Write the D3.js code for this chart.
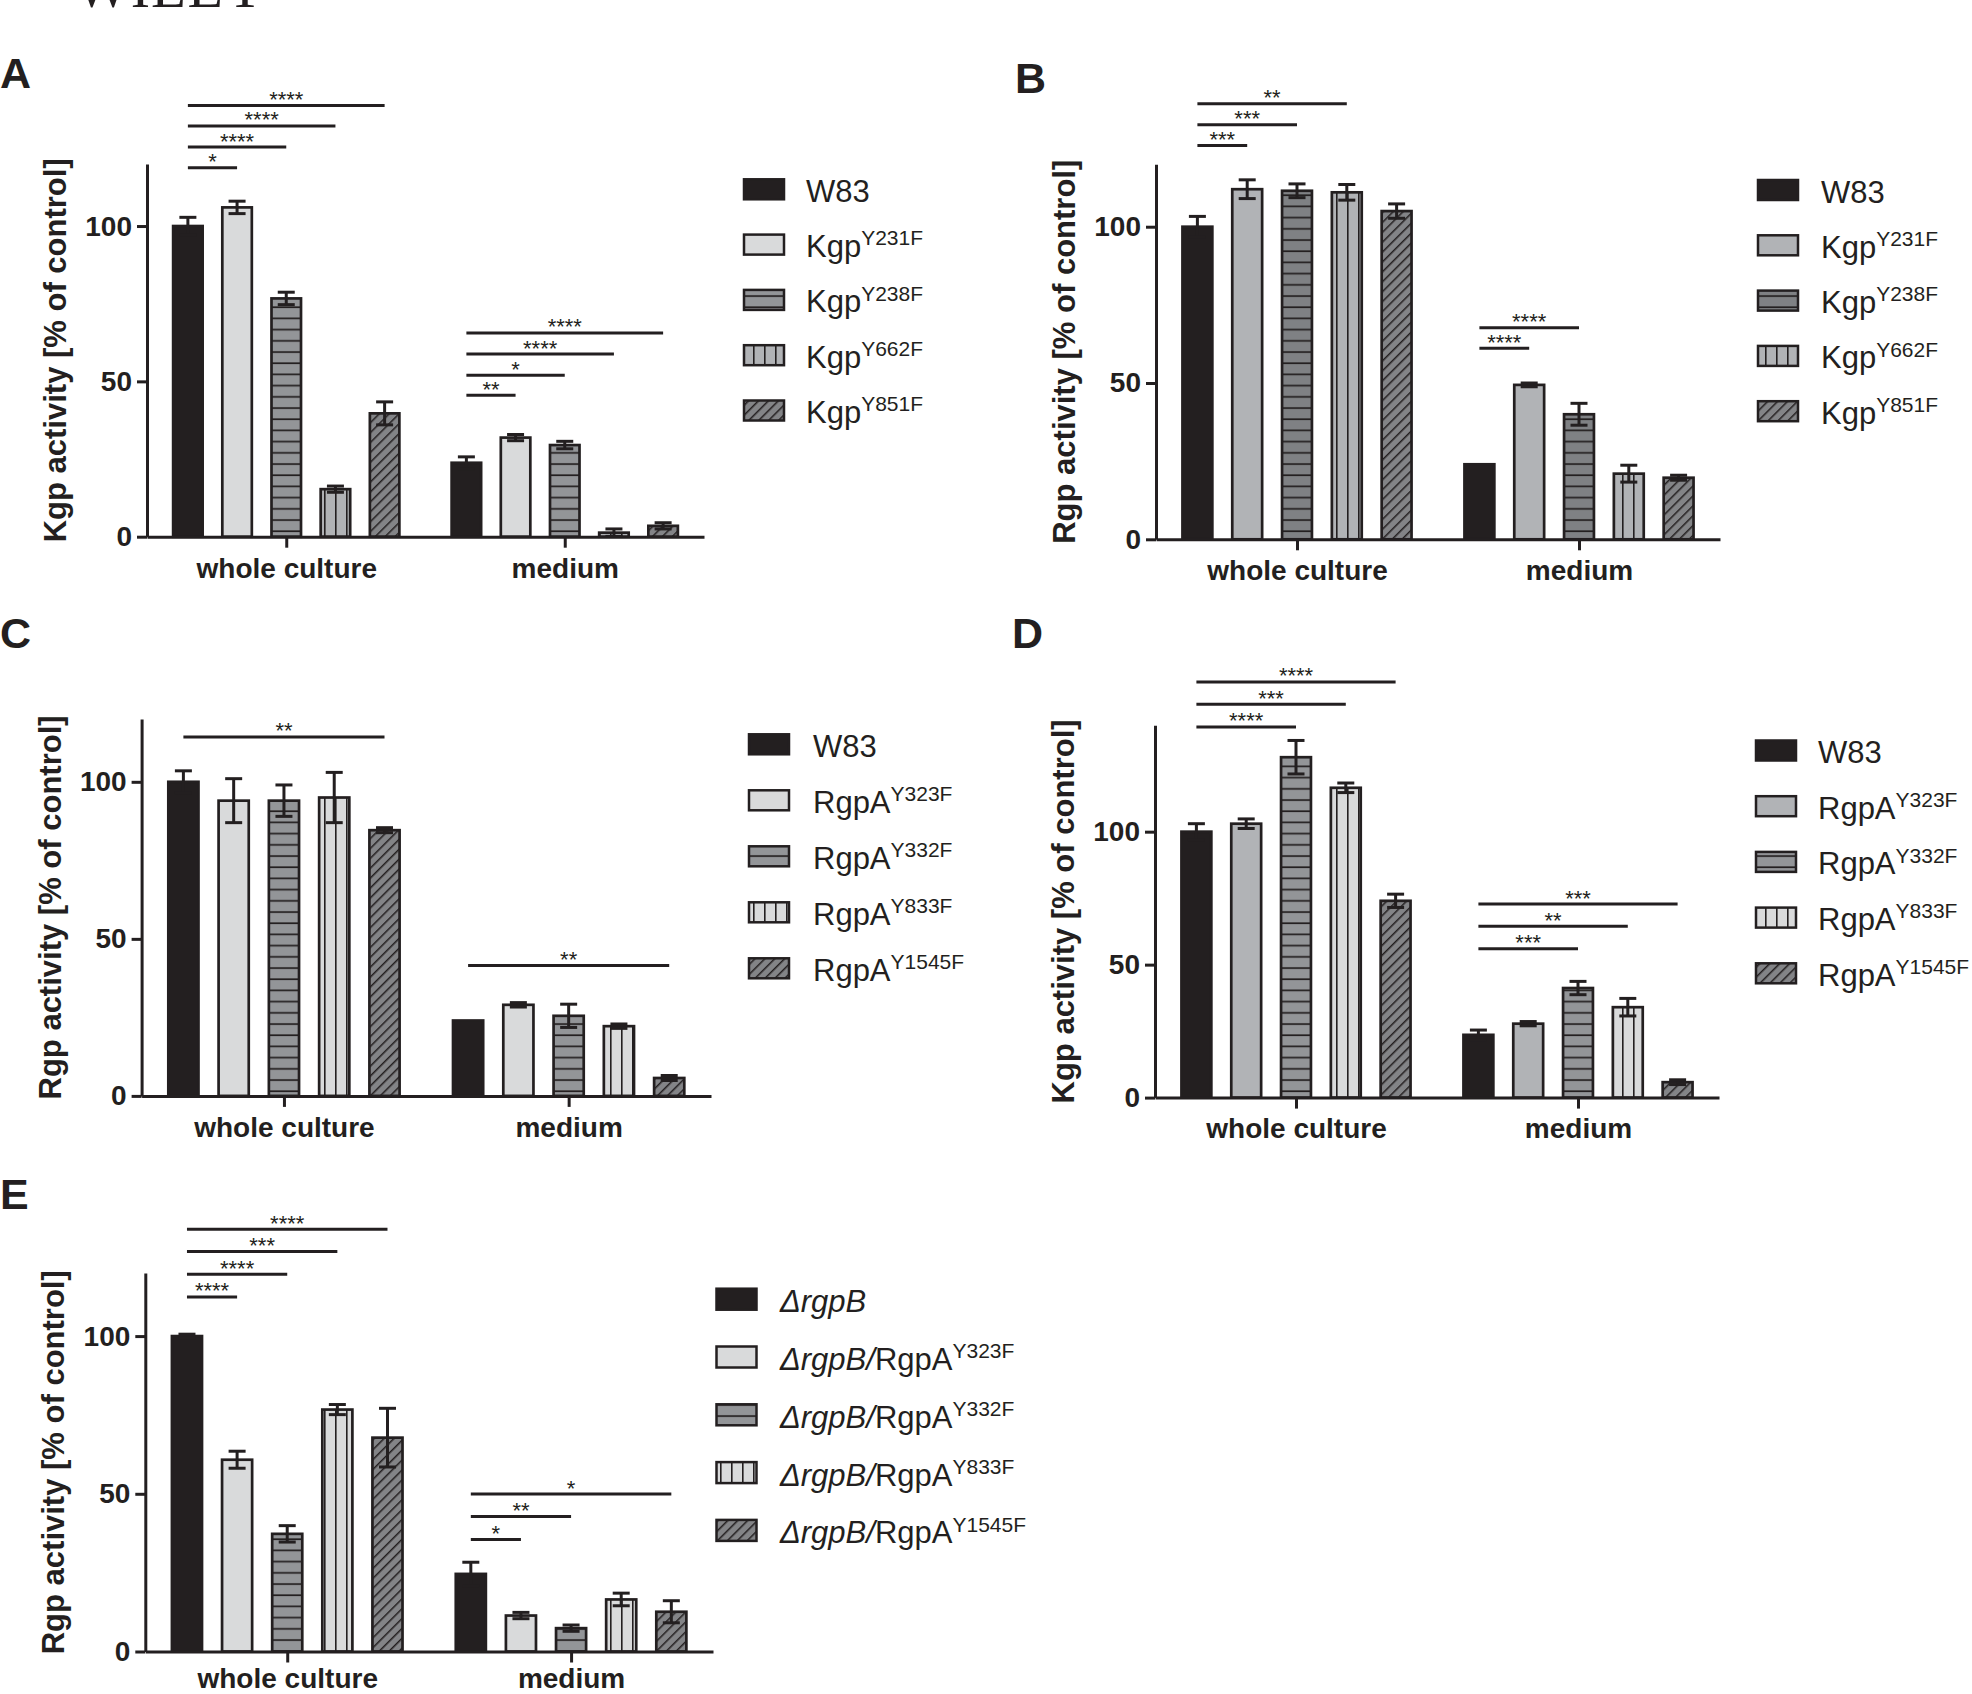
<!DOCTYPE html>
<html><head><meta charset="utf-8">
<script src="https://cdn.jsdelivr.net/npm/d3@7"></script>
<style>
body{margin:0;background:#fff;}
svg{display:block;font-family:"Liberation Sans",Arial,Helvetica,sans-serif;}
</style></head><body>
<svg id="c" width="1972" height="1694"></svg>
<script>
// ---------------- DATA ----------------
const groups = ["whole culture", "medium"];
const yTicks = [0, 50, 100];

// Panel A – Kgp activity
const A_italic = ["", "", "", "", ""];
const A_names = ["W83", "Kgp", "Kgp", "Kgp", "Kgp"];
const A_sups = ["", "Y231F", "Y238F", "Y662F", "Y851F"];
const A_whole = [100, 106, 76.7, 15.3, 39.7];
const A_whole_err = [2.8, 2, 2, 1, 3.7];
const A_medium = [23.8, 31.9, 29.5, 1.3, 3.5];
const A_medium_err = [1.9, 1, 1.2, 1.2, 1];
const A_sig = [["whole culture", 1, 118.8, "*"], ["whole culture", 2, 125.4, "****"], ["whole culture", 3, 132.2, "****"], ["whole culture", 4, 138.8, "****"],
               ["medium", 1, 45.5, "**"], ["medium", 2, 52, "*"], ["medium", 3, 58.8, "****"], ["medium", 4, 65.6, "****"]];

// Panel B – Rgp activity
const B_italic = ["", "", "", "", ""];
const B_names = ["W83", "Kgp", "Kgp", "Kgp", "Kgp"];
const B_sups = ["", "Y231F", "Y238F", "Y662F", "Y851F"];
const B_whole = [100, 112, 111.5, 111, 105];
const B_whole_err = [3.3, 3, 2.2, 2.5, 2.3];
const B_medium = [24, 49.4, 40, 21, 19.7];
const B_medium_err = [0, 0.6, 3.5, 2.7, 0.8];
const B_sig = [["whole culture", 1, 126, "***"], ["whole culture", 2, 132.6, "***"], ["whole culture", 3, 139.3, "**"],
               ["medium", 1, 61.1, "****"], ["medium", 2, 67.7, "****"]];

// Panel C – Rgp activity
const C_italic = ["", "", "", "", ""];
const C_names = ["W83", "RgpA", "RgpA", "RgpA", "RgpA"];
const C_sups = ["", "Y323F", "Y332F", "Y833F", "Y1545F"];
const C_whole = [100, 94, 94, 95, 84.6];
const C_whole_err = [3.5, 7, 5, 8, 0.8];
const C_medium = [24, 29, 25.5, 22.2, 5.7];
const C_medium_err = [0, 0.7, 3.7, 0.7, 0.8];
const C_sig = [["whole culture", 4, 114.3, "**"], ["medium", 4, 41.5, "**"]];

// Panel D – Kgp activity
const D_italic = ["", "", "", "", ""];
const D_names = ["W83", "RgpA", "RgpA", "RgpA", "RgpA"];
const D_sups = ["", "Y323F", "Y332F", "Y833F", "Y1545F"];
const D_whole = [100, 103, 128, 116.5, 74];
const D_whole_err = [3, 1.8, 6.3, 1.8, 2.5];
const D_medium = [23.6, 27.8, 41.2, 34, 5.8];
const D_medium_err = [1.8, 0.8, 2.5, 3.3, 0.9];
const D_sig = [["whole culture", 2, 139.4, "****"], ["whole culture", 3, 147.9, "***"], ["whole culture", 4, 156.3, "****"],
               ["medium", 2, 56, "***"], ["medium", 3, 64.4, "**"], ["medium", 4, 72.8, "***"]];

// Panel E – Rgp activity
const E_italic = ["\u0394rgpB", "\u0394rgpB/", "\u0394rgpB/", "\u0394rgpB/", "\u0394rgpB/"];
const E_names = ["", "RgpA", "RgpA", "RgpA", "RgpA"];
const E_sups = ["", "Y323F", "Y332F", "Y833F", "Y1545F"];
const E_whole = [100, 60.8, 37.3, 76.7, 67.8];
const E_whole_err = [0.6, 2.7, 2.6, 1.6, 9.3];
const E_medium = [24.6, 11.4, 7.4, 16.5, 12.6];
const E_medium_err = [3.7, 1, 1, 2, 3.5];
const E_sig = [["whole culture", 1, 112.4, "****"], ["whole culture", 2, 119.6, "****"], ["whole culture", 3, 126.8, "***"], ["whole culture", 4, 133.9, "****"],
               ["medium", 1, 35.5, "*"], ["medium", 2, 42.8, "**"], ["medium", 4, 49.9, "*"]];

// ---------------- STYLES ----------------
const INK = "#231f20";
const LIGHT = "#d9dadb", MID = "#b1b3b6", GREY = "#939598", DARK = "#7f8184", HATCH = "#838487";
const stylesA = [{t:"solid",c:INK},{t:"solid",c:LIGHT},{t:"horiz",c:GREY},{t:"vert",c:MID},{t:"hatch",c:HATCH}];
const stylesB = [{t:"solid",c:INK},{t:"solid",c:MID},{t:"horiz",c:DARK},{t:"vert",c:MID},{t:"hatch",c:HATCH}];
const stylesC = [{t:"solid",c:INK},{t:"solid",c:LIGHT},{t:"horiz",c:GREY},{t:"vert",c:LIGHT},{t:"hatch",c:HATCH}];
const stylesD = [{t:"solid",c:INK},{t:"solid",c:MID},{t:"horiz",c:GREY},{t:"vert",c:LIGHT},{t:"hatch",c:HATCH}];

const svg = d3.select("#c");
svg.append("rect").attr("width",1972).attr("height",1694).attr("fill","#fff");
const defs = svg.append("defs");
const made = new Set();
function fillFor(s){
  if(s.t === "solid") return s.c;
  const id = s.t + "-" + s.c.slice(1);
  if(!made.has(id)){
    made.add(id);
    const p = defs.append("pattern").attr("id", id).attr("patternUnits","userSpaceOnUse");
    if(s.t === "horiz"){
      p.attr("width",10).attr("height",11.2);
      p.append("rect").attr("width",10).attr("height",11.2).attr("fill",s.c);
      p.append("rect").attr("y",4).attr("width",10).attr("height",1.7).attr("fill",INK);
    } else if(s.t === "vert"){
      p.attr("width",11).attr("height",10);
      p.append("rect").attr("width",11).attr("height",10).attr("fill",s.c);
      p.append("rect").attr("x",5).attr("width",1.6).attr("height",10).attr("fill",INK);
    } else {
      p.attr("width",7).attr("height",10).attr("patternTransform","rotate(45)");
      p.append("rect").attr("width",7).attr("height",10).attr("fill",s.c);
      p.append("rect").attr("x",0).attr("width",1.5).attr("height",10).attr("fill",INK);
    }
  }
  return `url(#${id})`;
}

// ---------------- LAYOUT ----------------
const panels = [
  {letter:"A", lx:0, ly:88, x0:147, x1:704, y0:536.7, yTop:163.9, yMax:120, title:"Kgp activity [% of control]",
   whole:A_whole, wholeErr:A_whole_err, medium:A_medium, mediumErr:A_medium_err, sig:A_sig, styles:stylesA,
   italic:A_italic, names:A_names, sups:A_sups, lgx:744, lgy:179.3, lgStep:55.3, swH:20, lgTx:806, catPad:10},
  {letter:"B", lx:1015, ly:93, x0:1156, x1:1720, y0:539.3, yTop:164.2, yMax:120, title:"Rgp activity [% of control]",
   whole:B_whole, wholeErr:B_whole_err, medium:B_medium, mediumErr:B_medium_err, sig:B_sig, styles:stylesB,
   italic:B_italic, names:B_names, sups:B_sups, lgx:1758, lgy:180, lgStep:55.3, swH:20, lgTx:1821, catPad:10},
  {letter:"C", lx:0, ly:648, x0:141.6, x1:711, y0:1095.9, yTop:719, yMax:120, title:"Rgp activity [% of control]",
   whole:C_whole, wholeErr:C_whole_err, medium:C_medium, mediumErr:C_medium_err, sig:C_sig, styles:stylesC,
   italic:C_italic, names:C_names, sups:C_sups, lgx:749, lgy:734.3, lgStep:56, swH:20, lgTx:813, catPad:10},
  {letter:"D", lx:1012, ly:648, x0:1155, x1:1719, y0:1097.6, yTop:725.3, yMax:140, title:"Kgp activity [% of control]",
   whole:D_whole, wholeErr:D_whole_err, medium:D_medium, mediumErr:D_medium_err, sig:D_sig, styles:stylesD,
   italic:D_italic, names:D_names, sups:D_sups, lgx:1756, lgy:740.5, lgStep:55.7, swH:20, lgTx:1818, catPad:10},
  {letter:"E", lx:0, ly:1209, x0:145.3, x1:713, y0:1651.5, yTop:1273, yMax:120, title:"Rgp activity [% of control]",
   whole:E_whole, wholeErr:E_whole_err, medium:E_medium, mediumErr:E_medium_err, sig:E_sig, styles:stylesC,
   italic:E_italic, names:E_names, sups:E_sups, lgx:716.5, lgy:1288.7, lgStep:57.8, swH:21, lgTx:780, catPad:6}
];

// header fragment
svg.append("text").attr("x",75).attr("y",7).attr("font-family","'Liberation Serif','Times New Roman',serif")
  .attr("font-size",58).attr("letter-spacing",1).attr("fill",INK).text("WILEY");

function drawPanel(P){
  const g = svg.append("g");
  const x = d3.scalePoint().domain(groups).range([P.x0, P.x1]).padding(0.5);
  const st = x.step() * 0.1766;
  const inner = d3.scaleBand().domain(d3.range(5)).range([-2.5*st, 2.5*st]).paddingInner(0.4).paddingOuter(0.2);
  const y = d3.scaleLinear().domain([0, P.yMax]).range([P.y0, P.yTop]);
  const cx = (grp, i) => x(grp) + inner(i) + inner.bandwidth()/2;

  // panel letter
  g.append("text").attr("x",P.lx).attr("y",P.ly).attr("font-size",43).attr("font-weight","bold").attr("fill",INK).text(P.letter);

  // significance bars
  P.sig.forEach(([grp, t, lev, lab]) => {
    const xa = cx(grp, 0), xb = cx(grp, t), yy = y(lev);
    g.append("line").attr("x1",xa).attr("x2",xb).attr("y1",yy).attr("y2",yy).attr("stroke",INK).attr("stroke-width",3);
    g.append("text").attr("x",(xa+xb)/2).attr("y",yy+1.5).attr("text-anchor","middle").attr("font-size",22).attr("fill",INK).text(lab);
  });

  // bars
  const data = [];
  groups.forEach((grp, gi) => {
    const vals = gi ? P.medium : P.whole, errs = gi ? P.mediumErr : P.wholeErr;
    vals.forEach((v, i) => data.push({grp, i, v, e: errs[i]}));
  });
  g.append("g").selectAll("rect").data(data).join("rect")
    .attr("x", d => x(d.grp) + inner(d.i)).attr("width", inner.bandwidth())
    .attr("y", d => y(d.v)).attr("height", d => y(0) - y(d.v))
    .attr("fill", d => fillFor(P.styles[d.i])).attr("stroke", INK).attr("stroke-width", 2.7);

  // error bars
  const eg = g.append("g").attr("stroke", INK).attr("stroke-width", 3);
  data.filter(d => d.e > 0).forEach(d => {
    const c = cx(d.grp, d.i), yt = y(d.v + d.e), yb = y(Math.max(0, d.v - d.e));
    eg.append("line").attr("x1",c).attr("x2",c).attr("y1",yt).attr("y2",yb);
    eg.append("line").attr("x1",c-8.5).attr("x2",c+8.5).attr("y1",yt).attr("y2",yt);
    eg.append("line").attr("x1",c-8.5).attr("x2",c+8.5).attr("y1",yb).attr("y2",yb);
  });

  // axes
  const ya = g.append("g").attr("transform",`translate(${P.x0},0)`)
    .call(d3.axisLeft(y).tickValues(yTicks).tickSize(10).tickSizeOuter(0).tickPadding(5));
  const xa = g.append("g").attr("transform",`translate(0,${P.y0})`)
    .call(d3.axisBottom(x).tickSize(11).tickSizeOuter(0).tickPadding(P.catPad));
  [ya, xa].forEach(a => {
    a.attr("color", INK).attr("font-family", "'Liberation Sans',Arial,sans-serif").attr("font-weight","bold");
    a.selectAll("path,line").attr("stroke-width", 3);
  });
  ya.attr("font-size", 28);
  xa.attr("font-size", 28);

  // y title
  g.append("text").attr("transform",`translate(${P.x0-81},${(P.y0+P.yTop)/2}) rotate(-90)`)
    .attr("text-anchor","middle").attr("font-size",31).attr("font-weight","bold").attr("fill",INK).text(P.title);

  // legend
  P.names.forEach((nm, i) => {
    const top = P.lgy + i*P.lgStep;
    g.append("rect").attr("x",P.lgx).attr("y",top).attr("width",40).attr("height",P.swH)
      .attr("fill", fillFor(P.styles[i])).attr("stroke", INK).attr("stroke-width", 2.5);
    const t = g.append("text").attr("x",P.lgTx).attr("y",top+P.swH+2.5).attr("font-size",31).attr("fill",INK);
    if(P.italic[i]) t.append("tspan").attr("font-style","italic").text(P.italic[i]);
    if(nm) t.append("tspan").text(nm);
    if(P.sups[i]) t.append("tspan").attr("font-size",21).attr("dy",-11.8).text(P.sups[i]);
  });
}
panels.forEach(drawPanel);
</script>
</body></html>
